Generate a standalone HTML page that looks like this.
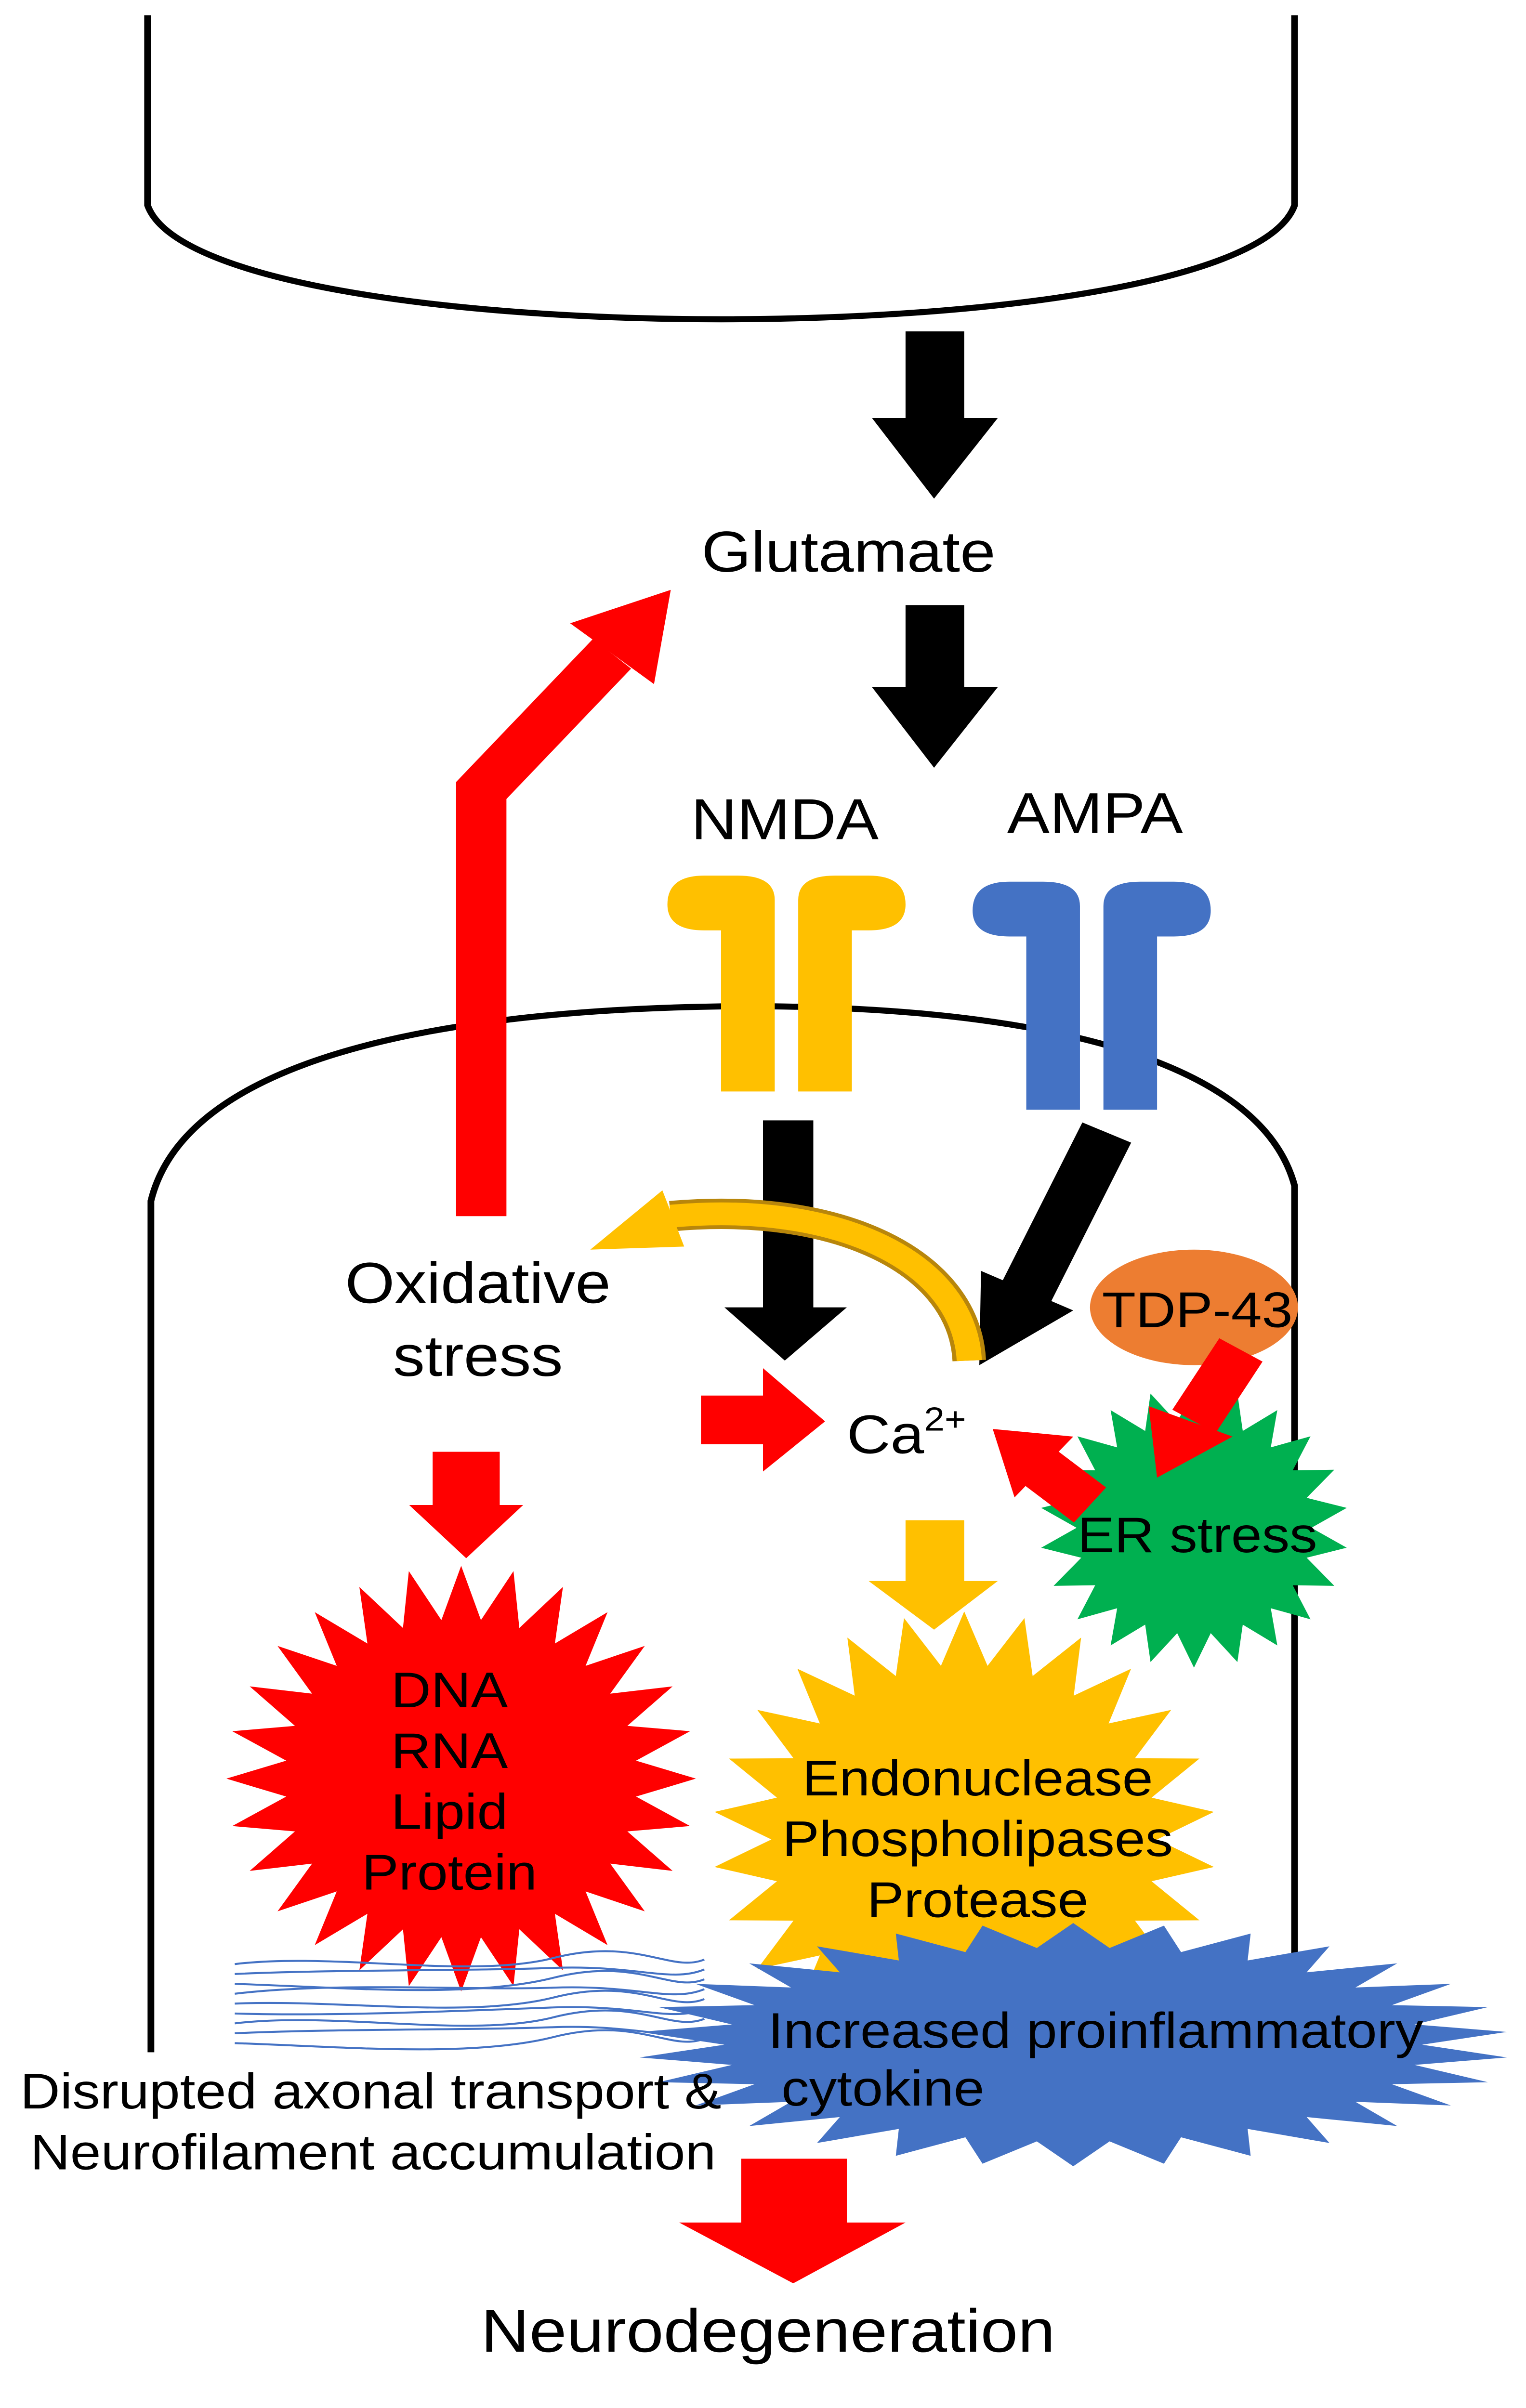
<!DOCTYPE html>
<html><head><meta charset="utf-8"><style>
html,body{margin:0;padding:0;background:#fff;width:100%;height:100%;overflow:hidden}
svg{display:block;position:fixed;left:0;top:0;width:100vw;height:100vh}
text{font-family:"Liberation Sans",Arial,sans-serif;fill:#000}
</style></head><body>
<svg id="s" viewBox="0 0 910 1584" preserveAspectRatio="none" xmlns="http://www.w3.org/2000/svg">
<path d="M88,10 L88,135 C 120,235 740,235 772,135 L772,10" fill="none" stroke="#000" stroke-width="4"/>
<path d="M90,1350 L90,790 C 110,700 250,665 430,662 C 600,660 750,690 772,780 L772,1350" fill="none" stroke="#000" stroke-width="4"/>
<polygon points="540,218 575,218 575,275 595,275 557,328 520,275 540,275" fill="#000"/>
<polygon points="540,398 575,398 575,452 595,452 557,505 520,452 540,452" fill="#000"/>
<text x="506" y="376" font-size="38" text-anchor="middle">Glutamate</text>
<text x="468" y="552" font-size="38" text-anchor="middle">NMDA</text>
<text x="653" y="548" font-size="38" text-anchor="middle">AMPA</text>
<g fill="#FFC000">
<path d="M462,718 L462,592 Q462,576 440,576 L420,576 Q398,576 398,595 Q398,612 420,612 L430,612 L430,718 Z"/>
<path d="M476,718 L476,592 Q476,576 498,576 L518,576 Q540,576 540,595 Q540,612 518,612 L508,612 L508,718 Z"/>
</g>
<g fill="#4472C4">
<path d="M644,730 L644,596 Q644,580 622,580 L602,580 Q580,580 580,599 Q580,616 602,616 L612,616 L612,730 Z"/>
<path d="M658,730 L658,596 Q658,580 680,580 L700,580 Q722,580 722,599 Q722,616 700,616 L690,616 L690,730 Z"/>
</g>
<polygon points="455,737 485,737 485,860 505,860 468,895 432,860 455,860" fill="#000"/>
<line x1="660" y1="745" x2="612" y2="850" stroke="#000" stroke-width="32"/>
<polygon points="584,898 585,836 640,862" fill="#000"/>
<polyline points="287,800 287,520 365,430" fill="none" stroke="#FF0000" stroke-width="30" stroke-linejoin="miter"/>
<polygon points="400,388 340,410 390,450" fill="#FF0000"/>
<path d="M578,895 C 575,830 500,790 400,800" fill="none" stroke="#B8860B" stroke-width="20"/>
<path d="M578,895 C 575,830 500,790 400,800" fill="none" stroke="#FFC000" stroke-width="15"/>
<polygon points="352,822 395,783 408,820" fill="#FFC000"/>
<text x="285" y="857" font-size="38" text-anchor="middle">Oxidative</text>
<text x="285" y="905" font-size="38" text-anchor="middle">stress</text>
<polygon points="418,918 455,918 455,900 492,935 455,968 455,950 418,950" fill="#FF0000"/>
<text x="505" y="956" font-size="36">Ca<tspan font-size="22" dy="-15">2+</tspan></text>
<polygon id="g" fill="#00B050"/>
<ellipse cx="712" cy="860" rx="62" ry="38" fill="#ED7D31"/>
<text x="714" y="873" font-size="33" text-anchor="middle">TDP-43</text>
<line x1="740" y1="888" x2="712" y2="935" stroke="#FF0000" stroke-width="30"/>
<polygon points="690,972 685,925 735,945" fill="#FF0000"/>
<text x="714" y="1021" font-size="33" text-anchor="middle">ER stress</text>
<line x1="650" y1="990" x2="620" y2="965" stroke="#FF0000" stroke-width="30"/>
<polygon points="592,940 640,945 605,985" fill="#FF0000"/>
<polygon points="258,955 298,955 298,990 312,990 278,1025 244,990 258,990" fill="#FF0000"/>
<polygon points="540,1000 575,1000 575,1040 595,1040 557,1072 518,1040 540,1040" fill="#FFC000"/>
<polygon id="y" fill="#FFC000"/>
<polygon id="r" fill="#FF0000"/>
<polygon id="b" fill="#4472C4"/>
<g id="lines" fill="none" stroke="#4472C4" stroke-width="1.3"></g>
<g font-size="33" text-anchor="middle">
<text x="268" y="1123">DNA</text><text x="268" y="1163">RNA</text><text x="268" y="1203">Lipid</text><text x="268" y="1243">Protein</text>
<text x="583" y="1181">Endonuclease</text><text x="583" y="1221">Phospholipases</text><text x="583" y="1261">Protease</text>
</g>
<text x="458" y="1347" font-size="33">Increased proinflammatory</text>
<text x="466" y="1385" font-size="33">cytokine</text>
<text x="12" y="1387" font-size="33">Disrupted axonal transport &amp;</text>
<text x="18" y="1427" font-size="33">Neurofilament accumulation</text>
<polygon points="442,1420 505,1420 505,1462 540,1462 473,1502 405,1462 442,1462" fill="#FF0000"/>
<text x="458" y="1547" font-size="40" text-anchor="middle">Neurodegeneration</text>
</svg>
<script>
function star(id,cx,cy,ro,ri,n,rxs,rys){
 var p=[];for(var i=0;i<2*n;i++){var a=Math.PI*i/n-Math.PI/2;var r=i%2?ri:ro;
 p.push((cx+r*Math.cos(a)*(rxs||1)).toFixed(1)+","+(cy+r*Math.sin(a)*(rys||1)).toFixed(1));}
 document.getElementById(id).setAttribute("points",p.join(" "));}
star("g",712,1005,92,70,22);
star("y",575,1210,150,115,26);
star("r",275,1170,140,105,28);
star("b",640,1345,1,0.8,30,260,80);
var g=document.getElementById("lines"),h="";
for(var i=0;i<9;i++){var y=1292+i*6.5;
h+='<path d="M140,'+y+' C 200,'+(y-8+i%3*5)+' 280,'+(y+10-i%2*12)+' 330,'+(y-4)+' S 400,'+(y+6)+' 420,'+(y-3)+'"/>';}
g.innerHTML=h;
</script>
</body></html>
